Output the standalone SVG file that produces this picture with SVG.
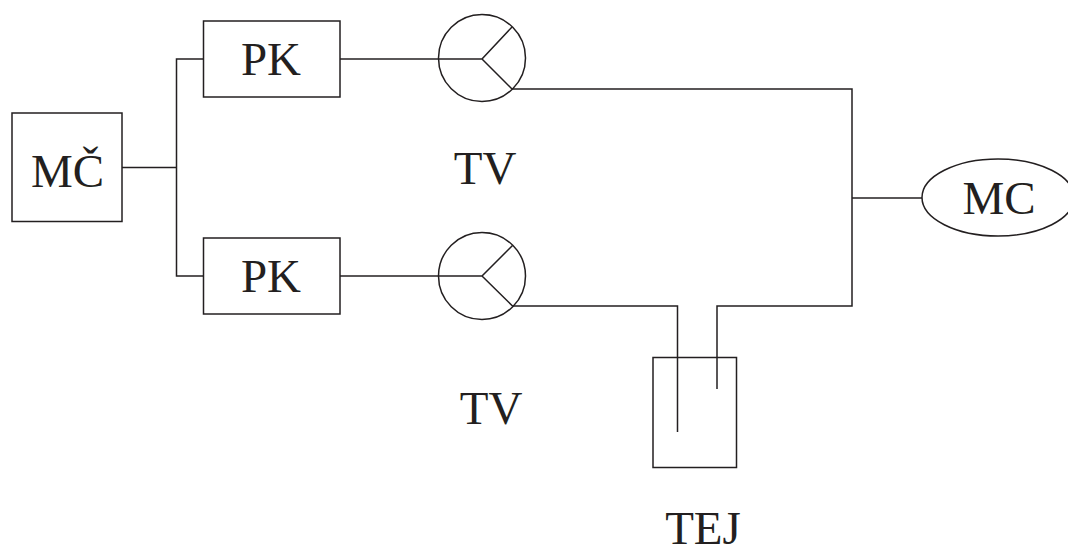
<svg xmlns="http://www.w3.org/2000/svg" width="1068" height="548" viewBox="0 0 1068 548">
<style>
.s{fill:none;stroke:#231f20;stroke-width:1.5}
text{font-family:"Liberation Serif",serif;font-size:47px;fill:#231f20;text-anchor:middle}
</style>
<rect width="1068" height="548" fill="#fff"/>
<g id="connectors" class="s">
<path d="M122 167.500H176.500M203 59H176.500V276H203"/>
<path d="M340 59H438"/>
<path d="M340 276H438"/>
<path d="M512 89H852V306H717V389"/>
<path d="M852 198H922"/>
<path d="M512 306H677.500V432"/>
</g>
<g id="mc-left"><rect class="s" x="12" y="113" width="110" height="108.500"/><text x="67.500" y="187">MČ</text></g>
<g id="pk1"><rect class="s" x="203.500" y="21" width="136.500" height="76"/><text x="271" y="75">PK</text></g>
<g id="pk2"><rect class="s" x="203.500" y="238" width="136.500" height="76"/><text x="271" y="292">PK</text></g>
<g id="tv1"><circle class="s" cx="482" cy="58" r="43.500"/><path class="s" d="M438 59H482L512 27M482 59L512 89"/></g>
<g id="tv2"><circle class="s" cx="482" cy="276" r="43.500"/><path class="s" d="M438 276H482L512.500 245.500M482 276L512.500 306"/></g>
<g id="mc-right"><ellipse class="s" cx="998" cy="197.500" rx="76" ry="38.500"/><text x="999" y="214">MC</text></g>
<g id="tej"><rect class="s" x="653" y="357.500" width="83.500" height="110"/><text x="703" y="544">TEJ</text></g>
<text x="485" y="184">TV</text>
<text x="491" y="424">TV</text>
</svg>
